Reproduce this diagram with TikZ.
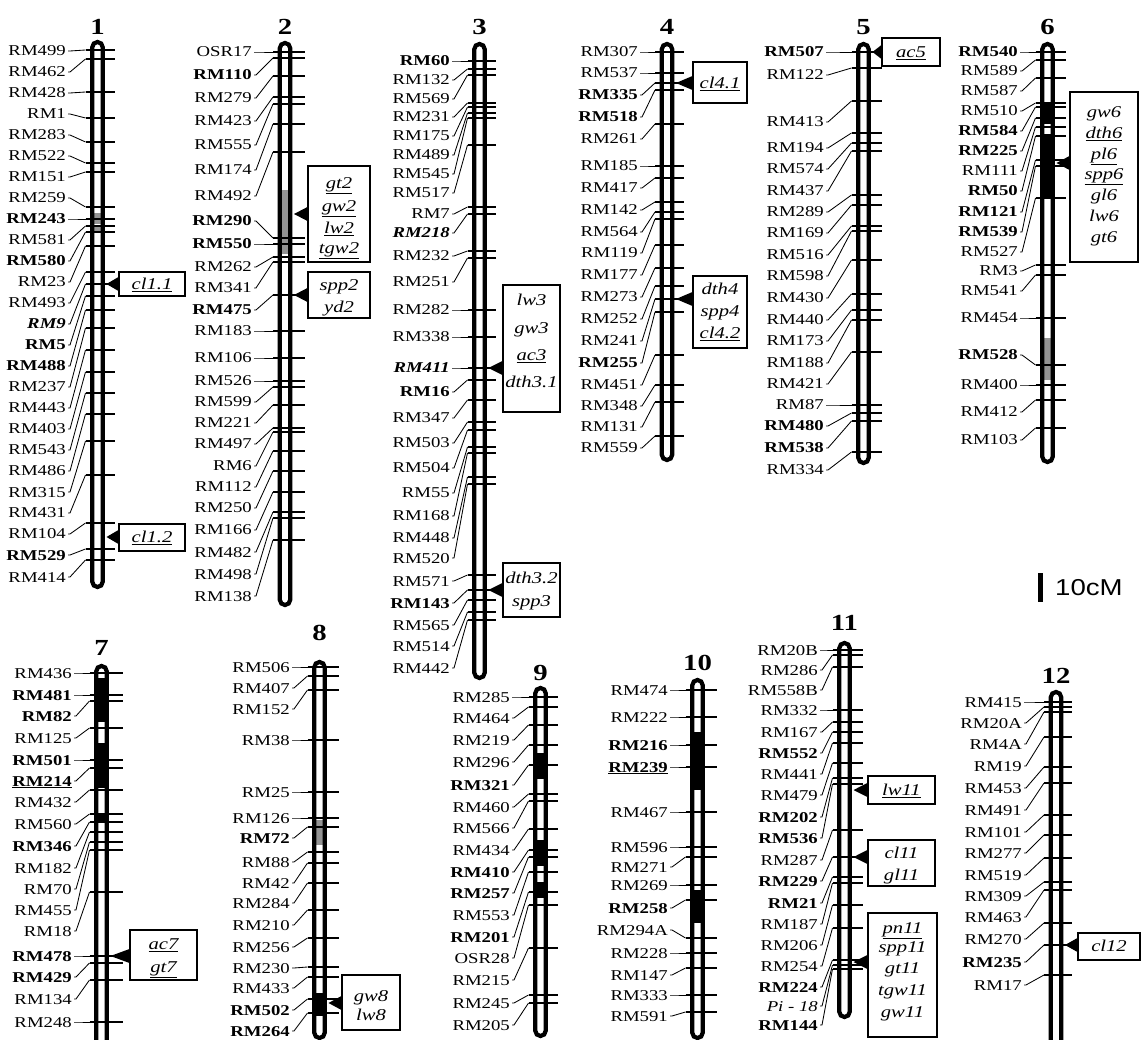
\documentclass[tikz,border=0pt]{standalone}
\usepackage{fontspec}
\setmainfont{Liberation Serif}[FakeStretch=1.25]
\newfontfamily\scalefont{Liberation Sans}[FakeStretch=1.2]
\usetikzlibrary{calc}

\tikzset{
  chromo/.style={line width=4.2pt, rounded corners=5.2pt},
  mk/.style={inner sep=0pt, anchor=east, text height=10pt, text depth=0pt,
             font=\fontsize{15}{15}\selectfont},
  lead/.style={line width=0.85pt},
  tk/.style={line width=1.15pt},
  qtl/.style={draw, line width=1.1pt, inner sep=0pt},
  gene/.style={inner sep=0pt, text height=10.5pt, text depth=0pt,
               font=\fontsize{16.5}{16.5}\selectfont\itshape},
  cnum/.style={inner sep=0pt, font=\fontsize{23}{23}\selectfont\bfseries},
  blk/.style={fill=black},
  gry/.style={fill=black!42},
}

% markers: #1 prefix, #2 centre x, #3 label right x, #4 tick end x, #5 list of labelY/tickY/text
\newcommand\markers[5]{%
  \foreach[count=\i] \ly/\ty/\tx in {#5}{%
    \node[mk] (#1m\i) at (#3,\ly) {\tx};
    \coordinate (#1t\i) at (#2-12,\ty);
    \draw[lead] ([xshift=2pt]#1m\i.east) -- ++(2,0) -- (#1t\i);
    \draw[tk] (#1t\i) -- (#4,\ty);
  }}
% chromosome outline: #1 centre x, #2 top, #3 bottom
\newcommand\chrbody[3]{\draw[chromo] (#1-5.2,#2) rectangle (#1+5.2,#3);}
% QTL box with pointer: #1 name, #2 x1, #3 y1, #4 x2, #5 y2, #6 pointer y, #7 tip x
\newcommand\qtlbox[7]{%
  \node[qtl, minimum width=#4-#2, minimum height=#5-#3] (#1) at ({(#2+#4)/2},{(#3+#5)/2}) {};
  \coordinate (#1tip) at (#7,#6);
  \fill (#1tip) -- ($(#1tip -| #1.west)+(0,7)$) -- ($(#1tip -| #1.west)+(0,-7)$) -- cycle;}

\begin{document}
\begin{tikzpicture}[x=1pt,y=-1pt]
\path[use as bounding box] (0,0) rectangle (1144,1040);
\clip (0,0) rectangle (1144,1040);

% ---------------- chromosome 1 ----------------
\node[cnum] (n1) at (97.5,27) {1};
\fill[gry] (92.5,213) rectangle (102.5,224);
\fill[gry] (92.5,227) rectangle (102.5,233);
\chrbody{97.5}{42}{587}
\markers{a}{97.5}{66}{115}{51/50/RM499, 72/59/RM462, 93/92/RM428, 114/118/RM1, 135/142/RM283, 156/163/RM522, 177/172/RM151, 198/207/RM259, 219/219/\textbf{RM243}, 240/226/RM581, 261/232/\textbf{RM580}, 282/246/RM23, 303/272/RM493, 324/284/\textbf{\textit{RM9}}, 345/296/\textbf{RM5}, 366/310/\textbf{RM488}, 387/328/RM237, 408/350/RM443, 429/372/RM403, 450/393/RM543, 471/414/RM486, 492/441/RM315, 513/475/RM431, 534/523/RM104, 555/549/\textbf{RM529}, 577/560/RM414}
\qtlbox{qa1}{119}{272}{185}{296}{284}{106.5}
\node[gene] (ga1) at (152,284) {\underline{cl1.1}};
\qtlbox{qa2}{119}{524}{185}{551}{537}{106.5}
\node[gene] (ga2) at (152,537) {\underline{cl1.2}};

% ---------------- chromosome 2 ----------------
\node[cnum] (n2) at (285,27) {2};
\fill[gry] (280,190) rectangle (290,254);
\chrbody{285}{43}{605}
\markers{b}{285}{252}{305}{52/52/OSR17, 75/58/\textbf{RM110}, 98/76/RM279, 121/97/RM423, 145/104/RM555, 170/124/RM174, 196/152/RM492, 221/238/\textbf{RM290}, 244/244/\textbf{RM550}, 267/257/RM262, 288/262/RM341, 310/295/\textbf{RM475}, 331/331/RM183, 358/358/RM106, 381/381/RM526, 402/387/RM599, 423/405/RM221, 444/428/RM497, 466/432/RM6, 487/451/RM112, 508/471/RM250, 530/492/RM166, 552/512/RM482, 574/518/RM498, 596/540/RM138}
\qtlbox{qb1}{308}{166}{370}{262}{214}{294}
\node[gene] (gb1) at (339,183) {\underline{gt2}};
\node[gene] (gb2) at (339,206) {\underline{gw2}};
\node[gene] (gb3) at (339,228) {\underline{lw2}};
\node[gene] (gb4) at (339,248) {\underline{tgw2}};
\qtlbox{qb2}{308}{272}{370}{318}{295}{294}
\node[gene] (gb5) at (339,285) {spp2};
\node[gene] (gb6) at (339,307) {yd2};

% ---------------- chromosome 3 ----------------
\node[cnum] (n3) at (479.5,27) {3};
\chrbody{479.5}{44}{678}
\markers{c}{479.5}{450}{496}{61/61/\textbf{RM60}, 80/69/RM132, 99/75/RM569, 117/103/RM231, 136/107/RM175, 155/113/RM489, 174/118/RM545, 193/145/RM517, 214/207/RM7, 233/214/\textbf{\textit{RM218}}, 256/251/RM232, 282/258/RM251, 310/310/RM282, 337/337/RM338, 368/368/\textbf{\textit{RM411}}, 392/380/\textbf{RM16}, 418/400/RM347, 443/422/RM503, 468/430/RM504, 493/447/RM55, 516/453/RM168, 538/477/RM448, 558/484/RM520, 581/575/RM571, 603/590/\textbf{RM143}, 625/600/RM565, 646/612/RM514, 668/620/RM442}
\qtlbox{qc1}{503}{285}{560}{412}{368}{488.5}
\node[gene] (gc1) at (531.5,300) {lw3};
\node[gene] (gc2) at (531.5,328) {gw3};
\node[gene] (gc3) at (531.5,355) {\underline{ac3}};
\node[gene] (gc4) at (531.5,382) {dth3.1};
\qtlbox{qc2}{503}{563}{560}{617}{590}{488.5}
\node[gene] (gc5) at (531.5,578) {dth3.2};
\node[gene] (gc6) at (531.5,601) {spp3};

% ---------------- chromosome 4 ----------------
\node[cnum] (n4) at (667,27) {4};
\chrbody{667}{44}{460}
\markers{d}{667}{638}{684}{52/52/RM307, 73/73/RM537, 95/83/\textbf{RM335}, 117/90/\textbf{RM518}, 139/124/RM261, 166/166/RM185, 188/178/RM417, 210/202/RM142, 232/212/RM564, 253/219/RM119, 275/245/RM177, 297/268/RM273, 319/286/RM252, 341/299/RM241, 363/312/\textbf{RM255}, 385/355/RM451, 406/385/RM348, 427/402/RM131, 448/436/RM559}
\qtlbox{qd1}{693}{62}{747}{103}{83}{676}
\node[gene] (gd1) at (720,83) {\underline{cl4.1}};
\qtlbox{qd2}{693}{276}{747}{348}{299}{676}
\node[gene] (gd2) at (720,289) {dth4};
\node[gene] (gd3) at (720,311) {spp4};
\node[gene] (gd4) at (720,333) {\underline{cl4.2}};

% ---------------- chromosome 5 ----------------
\node[cnum] (n5) at (863.5,27) {5};
\chrbody{863.5}{44}{463}
\markers{e}{863.5}{824}{882}{52/52/\textbf{RM507}, 75/68/RM122, 122/101/RM413, 148/133/RM194, 169/143/RM574, 191/151/RM437, 212/195/RM289, 233/205/RM169, 255/226/RM516, 276/231/RM598, 298/260/RM430, 320/294/RM440, 341/310/RM173, 363/320/RM188, 384/352/RM421, 405/405/RM87, 426/413/\textbf{RM480}, 448/421/\textbf{RM538}, 470/452/RM334}
\qtlbox{qe1}{882}{38}{940}{66}{52}{872.5}
\node[gene] (ge1) at (911,52) {\underline{ac5}};

% ---------------- chromosome 6 ----------------
\node[cnum] (n6) at (1047.5,27) {6};
\fill[blk] (1042.5,103) rectangle (1052.5,124);
\fill[blk] (1042.5,134) rectangle (1052.5,198);
\fill[gry] (1042.5,338) rectangle (1052.5,380);
\chrbody{1047.5}{44}{462}
\markers{f}{1047.5}{1018}{1066}{52/52/\textbf{RM540}, 71/60/RM589, 91/78/RM587, 111/103/RM510, 131/107/\textbf{RM584}, 151/118/\textbf{RM225}, 171/127/RM111, 191/136/\textbf{RM50}, 212/160/\textbf{RM121}, 232/166/\textbf{RM539}, 252/198/RM527, 271/265/RM3, 291/275/RM541, 318/318/RM454, 355/365/\textbf{RM528}, 385/385/RM400, 412/400/RM412, 440/428/RM103}
\qtlbox{qf1}{1070}{92}{1138}{262}{163}{1056.5}
\node[gene] (gf1) at (1104,112) {gw6};
\node[gene] (gf2) at (1104,133) {\underline{dth6}};
\node[gene] (gf3) at (1104,154) {\underline{pl6}};
\node[gene] (gf4) at (1104,174) {\underline{spp6}};
\node[gene] (gf5) at (1104,195) {gl6};
\node[gene] (gf6) at (1104,216) {lw6};
\node[gene] (gf7) at (1104,237) {gt6};

% ---------------- scale ----------------
\fill (1038,573) rectangle (1043,602);
\node[inner sep=0pt, anchor=west, font=\scalefont\fontsize{23}{23}\selectfont] (scl) at (1055,588) {10cM};

% ---------------- chromosome 7 ----------------
\node[cnum] (n7) at (101.5,648) {7};
\fill[blk] (96.5,678) rectangle (106.5,722);
\fill[blk] (96.5,743) rectangle (106.5,788);
\fill[blk] (96.5,814) rectangle (106.5,822);
\chrbody{101.5}{666}{1060}
\markers{g}{101.5}{72}{123}{673/673/RM436, 695/695/\textbf{RM481}, 716/701/\textbf{RM82}, 738/728/RM125, 760/760/\textbf{RM501}, 781/768/\underline{\textbf{RM214}}, 802/790/RM432, 824/814/RM560, 846/822/\textbf{RM346}, 868/832/RM182, 889/842/RM70, 910/850/RM455, 931/892/RM18, 956/956/\textbf{RM478}, 977/963/\textbf{RM429}, 999/980/RM134, 1022/1022/RM248}
\qtlbox{qg1}{130}{930}{197}{980}{956}{110.5}
\node[gene] (gg1) at (163.5,944) {\underline{ac7}};
\node[gene] (gg2) at (163.5,967) {\underline{gt7}};

% ---------------- chromosome 8 ----------------
\node[cnum] (n8) at (319.5,633) {8};
\fill[gry] (314.5,820) rectangle (324.5,845);
\fill[blk] (314.5,993) rectangle (324.5,1016);
\chrbody{319.5}{662}{1038}
\markers{h}{319.5}{290}{339}{667/667/RM506, 688/676/RM407, 709/690/RM152, 740/740/RM38, 792/792/RM25, 818/818/RM126, 838/827/\textbf{RM72}, 862/852/RM88, 883/863/RM42, 903/883/RM284, 925/910/RM210, 947/938/RM256, 968/967/RM230, 988/977/RM433, 1010/999/\textbf{RM502}, 1031/1013/\textbf{RM264}}
\qtlbox{qh1}{342}{975}{400}{1030}{1003}{328.5}
\node[gene] (gh1) at (371,996) {gw8};
\node[gene] (gh2) at (371,1015) {lw8};

% ---------------- chromosome 9 ----------------
\node[cnum] (n9) at (540.5,673) {9};
\fill[blk] (535.5,753) rectangle (545.5,779);
\fill[blk] (535.5,840) rectangle (545.5,866);
\fill[blk] (535.5,882) rectangle (545.5,898);
\chrbody{540.5}{688}{1036}
\markers{k}{540.5}{510}{558}{697/697/RM285, 718/707/RM464, 740/725/RM219, 762/745/RM296, 785/765/\textbf{RM321}, 807/794/RM460, 828/801/RM566, 850/829/RM434, 872/850/\textbf{RM410}, 893/857/\textbf{RM257}, 915/872/RM553, 937/892/\textbf{RM201}, 958/905/OSR28, 980/948/RM215, 1003/995/RM245, 1025/1003/RM205}

% ---------------- chromosome 10 ----------------
\node[cnum] (n10) at (697.5,663) {10};
\fill[blk] (692.5,732) rectangle (702.5,790);
\fill[blk] (692.5,890) rectangle (702.5,923);
\chrbody{697.5}{680}{1038}
\markers{l}{697.5}{668}{717}{690/690/RM474, 717/717/RM222, 745/745/\textbf{RM216}, 767/767/\underline{\textbf{RM239}}, 812/812/RM467, 847/847/RM596, 867/857/RM271, 885/885/RM269, 908/900/\textbf{RM258}, 930/938/RM294A, 953/953/RM228, 975/968/RM147, 995/995/RM333, 1016/1012/RM591}

% ---------------- chromosome 11 ----------------
\node[cnum] (n11) at (844.5,623) {11};
\chrbody{844.5}{643}{1017}
\markers{p}{844.5}{818}{863}{650/650/RM20B, 670/655/RM286, 690/667/RM558B, 710/710/RM332, 732/722/RM167, 753/732/\textbf{RM552}, 774/743/RM441, 795/763/RM479, 817/778/\textbf{RM202}, 838/784/\textbf{RM536}, 860/830/RM287, 881/857/\textbf{RM229}, 903/877/\textbf{RM21}, 924/883/RM187, 945/905/RM206, 966/928/RM254, 987/960/\textbf{RM224}, 1006/965/\textit{Pi - 18}, 1025/969/\textbf{RM144}}
\qtlbox{qp1}{868}{776}{935}{804}{790}{853.5}
\node[gene] (gp1) at (901.5,790) {\underline{lw11}};
\qtlbox{qp2}{868}{840}{935}{886}{857}{853.5}
\node[gene] (gp2) at (901.5,853) {cl11};
\node[gene] (gp3) at (901.5,875) {\underline{gl11}};
\qtlbox{qp3}{868}{913}{937}{1037}{962}{853.5}
\node[gene] (gp4) at (902.5,928) {\underline{pn11}};
\node[gene] (gp5) at (902.5,947) {spp11};
\node[gene] (gp6) at (902.5,968) {gt11};
\node[gene] (gp7) at (902.5,990) {tgw11};
\node[gene] (gp8) at (902.5,1012) {gw11};

% ---------------- chromosome 12 ----------------
\node[cnum] (n12) at (1056,676) {12};
\chrbody{1056}{692}{1060}
\markers{q}{1056}{1022}{1072}{702/702/RM415, 723/707/RM20A, 744/712/RM4A, 766/737/RM19, 788/767/RM453, 810/783/RM491, 832/815/RM101, 853/835/RM277, 875/858/RM519, 896/882/RM309, 917/890/RM463, 939/923/RM270, 962/945/\textbf{RM235}, 985/975/RM17}
\qtlbox{qq1}{1078}{933}{1140}{960}{945}{1065}
\node[gene] (gq1) at (1109,946) {cl12};

\end{tikzpicture}
\end{document}
